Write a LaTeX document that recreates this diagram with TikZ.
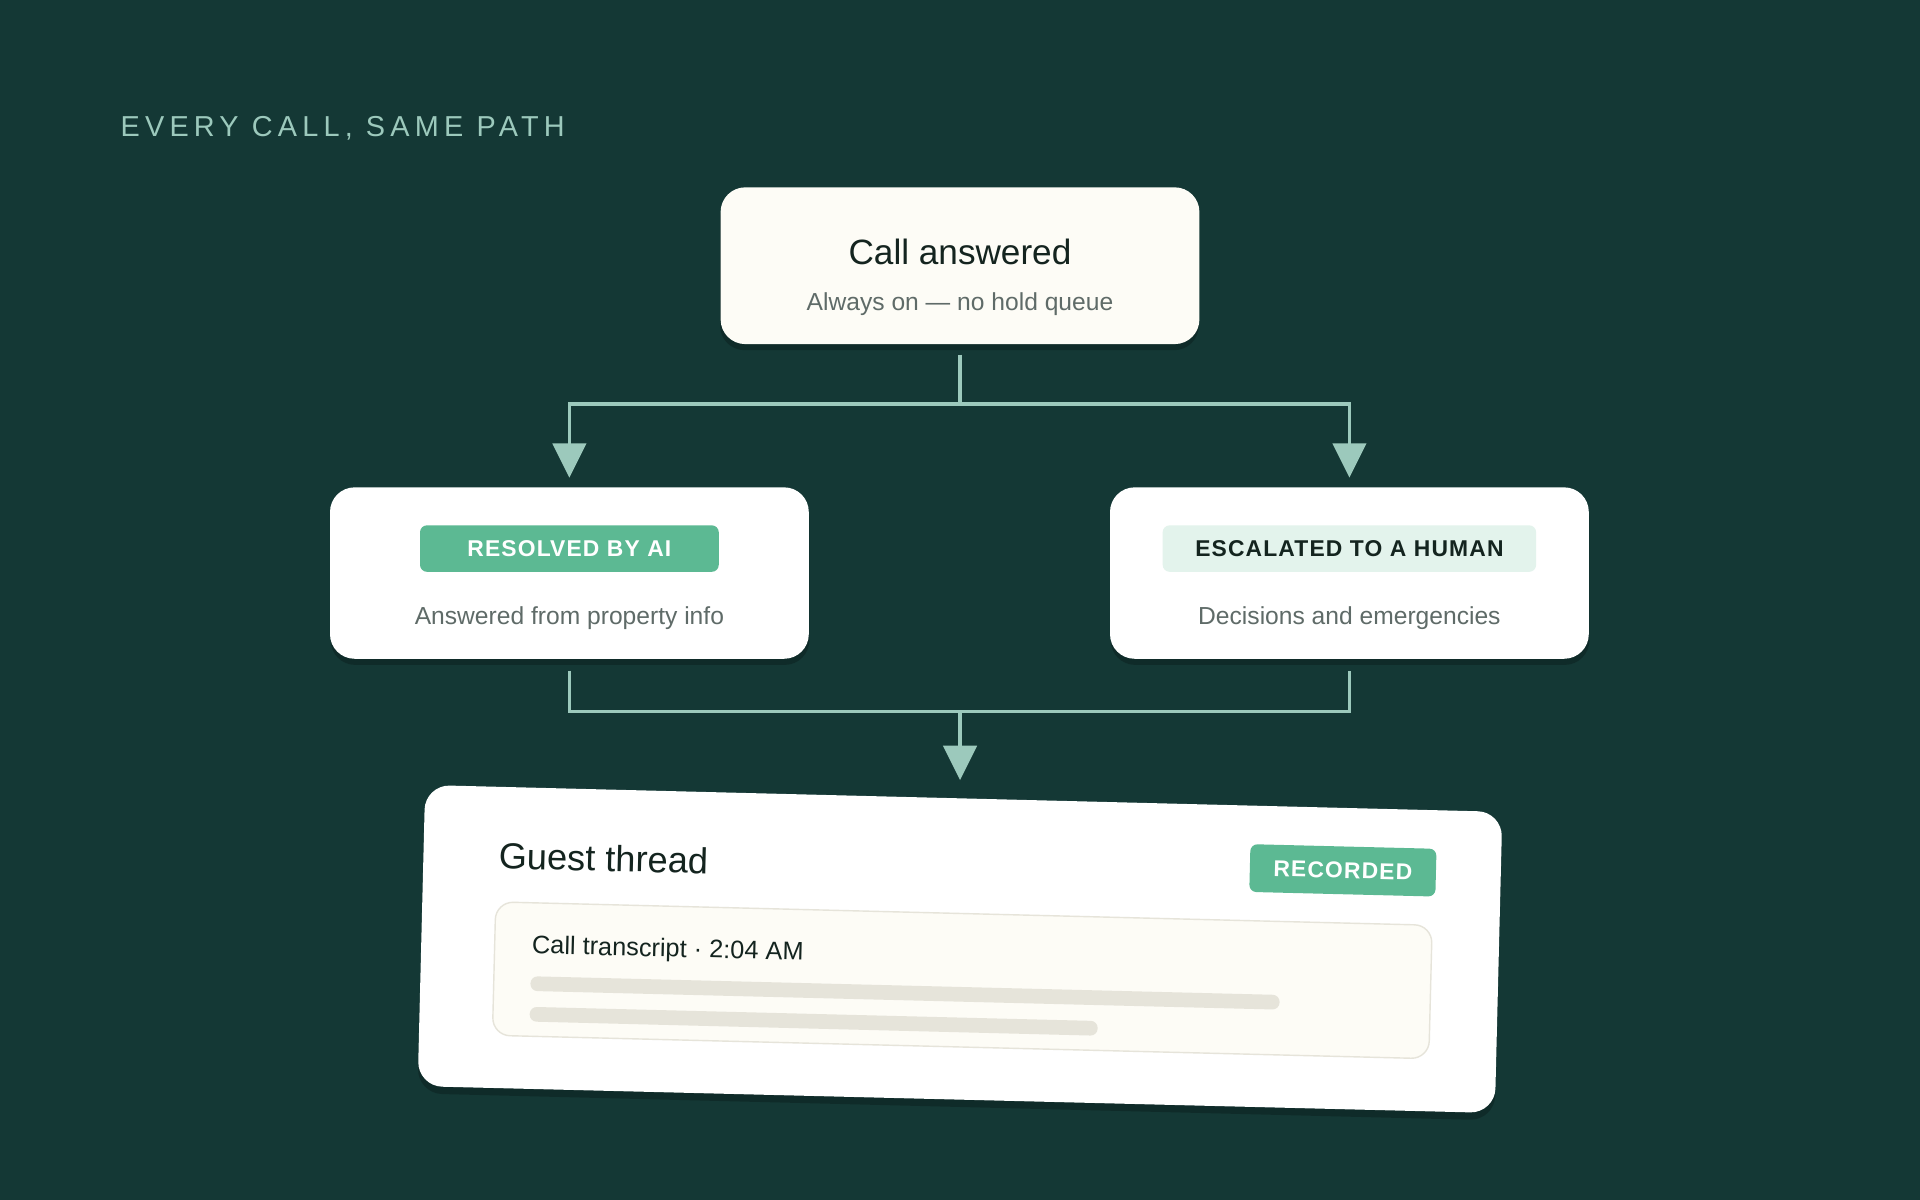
\documentclass[tikz,border=0pt]{standalone}
\usepackage{fontspec}
\setmainfont{Liberation Sans}
\newfontfamily\spaced[LetterSpace=5]{Liberation Sans Bold}
\newfontfamily\wide[LetterSpace=18]{Liberation Sans}
\usetikzlibrary{positioning}
\newlength\px \setlength\px{0.012245cm}
\definecolor{bg}{HTML}{143835}
\definecolor{flow}{HTML}{9CC9BC}
\definecolor{tagg}{HTML}{5CB993}
\definecolor{tagl}{HTML}{E3F3EC}
\definecolor{ink}{HTML}{14241F}
\definecolor{sub}{HTML}{5F6B68}
\definecolor{cream}{HTML}{FDFCF6}
\definecolor{bar}{HTML}{E6E4DA}
\tikzset{
  card/.style={draw=none,fill=white,rounded corners=7pt,minimum width=391\px,minimum height=140\px,inner sep=0pt},
  shade/.style={fill=black,opacity=0.22,rounded corners=7pt},
  tag/.style={rounded corners=2pt,minimum height=38\px,inner sep=0pt,font=\spaced\fontsize{6.5}{8}\selectfont},
  flowline/.style={draw=flow,line width=0.9pt},
  head/.style={fill=flow,draw=none}
}
\begin{document}
\begin{tikzpicture}[x=\px,y=-\px]
  \fill[bg] (0,0) rectangle (1568,980);
  \useasboundingbox (0,0) rectangle (1568,980);
  \node[anchor=west,inner sep=0pt,text=flow,font=\wide\fontsize{8.2}{10}\selectfont] (hdr) at (98,105) {EVERY CALL, SAME PATH};
  % cards
  \fill[shade] (588,158) rectangle (979,286);
  \node[card,fill=cream,minimum height=128\px] (top) at (784,217) {};
  \node[font=\fontsize{10}{12}\selectfont,text=ink] (toptitle) at (784,206) {Call answered};
  \node[font=\fontsize{7}{9}\selectfont,text=sub] (topsub) at (784,248) {Always on — no hold queue};
  \fill[shade] (270,403) rectangle (661,543);
  \fill[shade] (907,403) rectangle (1298,543);
  \node[card] (ai) at (465,468) {};
  \node[card] (hum) at (1102,468) {};
  \node[tag,fill=tagg,text=white,minimum width=244\px] (aitag) at (465,448) {RESOLVED BY AI};
  \node[tag,fill=tagl,text=ink,minimum width=305\px] (humtag) at (1102,448) {ESCALATED TO A HUMAN};
  \node[font=\fontsize{7}{9}\selectfont,text=sub] (aisub) at (465,505) {Answered from property info};
  \node[font=\fontsize{7}{9}\selectfont,text=sub] (humsub) at (1102,505) {Decisions and emergencies};
  % connectors
  \coordinate (split) at (784,330);
  \coordinate (join) at (784,581);
  \coordinate (aitip) at (465,390);
  \coordinate (humtip) at (1102,390);
  \coordinate (thtip) at (784,637);
  \draw[flowline] ([yshift=-8\px]top.south) -- (split) -| ([yshift=26\px]aitip);
  \draw[flowline] (split) -| ([yshift=26\px]humtip);
  \fill[head] (aitip) -- ++(-14,-28) -- ++(28,0) -- cycle;
  \fill[head] (humtip) -- ++(-14,-28) -- ++(28,0) -- cycle;
  \draw[flowline] ([yshift=-9\px]ai.south) |- (join) -| ([yshift=-9\px]hum.south);
  \draw[flowline] (join) -- ([yshift=26\px]thtip);
  \fill[head] (thtip) -- ++(-14,-28) -- ++(28,0) -- cycle;
  % guest thread
  \begin{scope}[rotate around={-1.43:(784,775)},transform shape]
    \fill[shade] (344,659) rectangle (1224,904);
    \node[card,minimum width=880\px,minimum height=246\px] (thread) at (784,775) {};
    \node[anchor=west,inner sep=0pt,font=\fontsize{10.3}{12}\selectfont,text=ink] (ttl) at (405,708) {Guest thread};
    \node[tag,fill=tagg,text=white,minimum width=152\px,minimum height=39\px] (rec) at (1095,703) {RECORDED};
    \draw[draw=bar,fill=cream,rounded corners=5pt] (404,746) rectangle (1169,855);
    \node[anchor=west,inner sep=0pt,font=\fontsize{7.2}{9}\selectfont,text=ink] (tr) at (434,782) {Call transcript · 2:04 AM};
    \fill[bar,rounded corners=2pt] (434,806) rectangle (1046,818);
    \fill[bar,rounded corners=2pt] (434,831) rectangle (898,843);
  \end{scope}
\end{tikzpicture}
\end{document}
